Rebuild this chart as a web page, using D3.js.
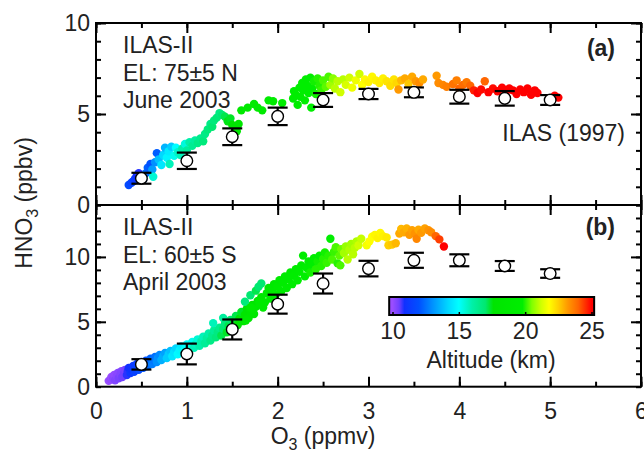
<!DOCTYPE html>
<html><head><meta charset="utf-8">
<script src="https://cdn.jsdelivr.net/npm/d3@7"></script>
<style>
html,body{margin:0;padding:0;background:#fff;}
svg{display:block;font-family:"Liberation Sans",Arial,Helvetica,sans-serif;}
</style></head>
<body>
<svg id="c" width="644" height="454"></svg>
<script>
// ---------- data ----------
const xTicks = [0,1,2,3,4,5,6];
const yTicksA = [0,5,10];
const yTicksB = [0,5,10];
const cbTicks = [10,15,20,25];
const ilasO3 = [0.5,1,1.5,2,2.5,3,3.5,4,4.5,5];
const ilasA = [1.47,2.43,3.75,4.87,5.77,6.10,6.19,5.95,5.86,5.77];
const ilasAerr = [0.30,0.45,0.46,0.48,0.38,0.28,0.27,0.38,0.40,0.27];
const ilasB = [1.72,2.52,4.41,6.36,7.95,9.10,9.74,9.74,9.30,8.72];
const ilasBerr = [0.40,0.80,0.77,0.73,0.77,0.60,0.58,0.46,0.38,0.33];
// ILAS-II points: [O3 (ppmv), HNO3 (ppbv), altitude (km)]
const ilas2A = [
[0.36,1.10,11.8],[0.39,1.22,11.6],[0.41,1.30,11.4],[0.43,1.45,11.2],[0.45,1.62,10.9],[0.47,1.75,10.8],
[0.49,1.55,11.5],[0.52,1.40,12.2],[0.55,1.75,12.5],[0.57,2.05,12.2],[0.60,2.25,12.0],[0.62,1.95,13.2],
[0.63,1.55,15.5],[0.65,2.35,13.0],[0.67,2.85,12.2],[0.69,2.50,13.8],[0.72,2.20,14.5],[0.74,2.75,14.2],
[0.76,3.15,13.6],[0.78,2.60,14.8],[0.80,2.95,14.6],[0.81,2.25,15.8],[0.83,3.20,14.0],[0.86,2.70,15.2],
[0.88,3.15,15.0],[0.90,2.90,15.6],[0.93,2.75,15.8],[0.95,3.10,16.0],[0.98,3.35,15.4],[1.00,3.00,16.2],
[1.03,3.45,16.0],[1.06,3.25,16.4],[1.09,3.55,16.2],[1.12,3.40,16.6],[1.15,3.65,16.5],[1.18,3.50,16.8],
[1.20,3.90,16.6],[1.23,4.15,16.8],[1.26,4.45,16.6],[1.28,4.30,17.0],[1.30,4.65,16.8],[1.33,4.80,16.9],
[1.36,5.05,16.7],[1.39,4.95,17.0],[1.42,4.85,17.2],[1.45,4.60,17.5],[1.48,4.75,17.4],[1.50,4.40,17.8],
[1.53,4.20,18.0],[1.55,4.05,18.2],[1.57,4.45,18.0],[1.60,5.20,18.6],[1.67,5.35,18.8],[1.74,5.55,18.9],
[1.78,5.35,19.0],[1.83,5.20,19.0],[1.90,5.75,19.2],[1.95,5.70,19.3],[2.05,5.60,19.5],[2.17,5.85,19.6],
[2.18,6.25,19.6],[2.20,6.05,19.5],[2.22,5.50,19.6],[2.24,6.45,19.7],[2.25,5.95,19.6],[2.27,6.70,19.8],
[2.28,6.30,19.7],[2.30,5.75,19.5],[2.31,6.90,19.8],[2.33,6.55,19.8],[2.34,6.15,19.7],[2.36,7.00,19.8],
[2.37,5.35,19.6],[2.38,6.40,19.8],[2.40,6.80,19.9],[2.42,6.10,19.9],[2.44,6.95,20.0],[2.46,6.55,20.0],
[2.48,6.30,20.1],[2.50,6.85,20.2],[2.53,6.50,20.3],[2.56,7.05,20.2],[2.58,6.60,20.8],[2.61,6.95,20.6],
[2.63,6.40,21.0],[2.66,6.80,21.0],[2.69,6.20,21.2],[2.72,6.90,21.0],[2.75,6.60,21.3],[2.79,7.00,21.2],
[2.82,6.45,21.6],[2.86,6.85,21.6],[2.90,7.20,21.2],[2.93,6.60,21.8],[2.96,6.90,21.9],[3.00,6.75,22.0],
[3.04,7.05,21.9],[3.08,6.85,22.0],[3.12,6.70,22.1],[3.16,6.95,22.0],[3.20,6.80,22.2],[3.24,6.55,22.3],
[3.28,6.90,22.2],[3.31,6.70,22.4],[3.33,6.35,23.2],[3.36,6.85,22.8],[3.40,6.95,23.0],[3.44,6.65,22.6],
[3.48,7.05,23.0],[3.52,6.80,23.2],[3.56,6.70,23.4],[3.60,6.90,23.0],[3.75,7.10,23.2],[3.77,6.70,23.4],
[3.82,6.60,23.5],[3.86,6.50,23.6],[3.93,6.65,23.8],[3.97,6.85,23.6],[4.00,6.40,24.0],[4.04,6.60,23.9],
[4.08,6.75,23.7],[4.12,6.55,24.0],[4.16,6.30,24.7],[4.20,6.15,25.0],[4.24,6.35,24.9],[4.28,6.80,24.0],
[4.32,6.20,25.0],[4.37,6.40,24.9],[4.42,6.25,25.0],[4.47,6.45,25.0],[4.51,6.20,25.0],[4.55,6.40,25.0],
[4.59,6.30,25.0],[4.63,6.10,25.0],[4.67,6.35,25.0],[4.71,6.20,25.0],[4.75,6.40,25.0],[4.79,6.05,25.0],
[4.83,6.30,25.0],[4.86,6.15,25.0],[5.05,6.00,25.0],[5.09,5.90,25.0]
];
const ilas2B = [
[0.14,0.45,10.0],[0.16,0.55,10.1],[0.17,0.75,10.0],[0.19,0.65,10.2],[0.20,0.90,10.1],[0.21,0.50,10.3],
[0.23,0.80,10.2],[0.24,1.05,10.2],[0.25,0.65,10.4],[0.27,0.95,10.3],[0.28,1.20,10.3],[0.29,0.75,10.5],
[0.31,1.05,10.5],[0.32,1.30,10.4],[0.34,0.90,10.8],
[0.35,1.20,10.8],[0.36,1.45,10.9],[0.38,1.05,11.2],[0.39,1.35,11.0],[0.41,1.60,11.2],[0.42,1.15,11.5],
[0.44,1.45,11.5],[0.45,1.75,11.4],[0.47,1.30,11.8],[0.48,1.60,11.8],[0.50,1.90,11.7],[0.52,1.45,12.1],
[0.53,1.75,12.0],[0.55,2.00,12.0],[0.57,1.60,12.4],[0.58,1.90,12.3],[0.60,2.15,12.3],[0.62,1.75,12.7],
[0.63,2.05,12.6],[0.65,2.30,12.5],[0.67,1.90,13.0],[0.68,2.20,13.0],[0.70,2.45,12.9],
[0.72,2.05,13.5],[0.74,2.35,13.5],[0.76,2.60,13.3],[0.78,2.20,14.0],[0.80,2.50,14.0],[0.82,2.75,13.8],
[0.84,2.35,14.5],[0.86,2.65,14.4],[0.88,2.95,14.2],[0.90,2.50,14.9],[0.92,2.80,14.8],[0.94,3.10,14.6],
[0.96,2.65,15.2],[0.98,2.95,15.1],[1.00,3.25,15.0],[1.02,2.80,15.5],[1.04,3.10,15.4],[1.06,3.45,15.2],
[1.08,3.00,15.8],[1.10,3.30,15.7],[1.12,3.65,15.5],[1.14,3.15,16.0],[1.16,3.50,16.0],[1.18,3.85,15.8],
[1.20,3.35,16.3],[1.22,3.75,16.2],[1.24,4.10,16.0],[1.26,3.55,16.6],[1.28,3.95,16.5],[1.30,4.35,16.3],
[1.32,3.80,16.8],[1.34,4.20,16.7],[1.36,4.55,16.5],[1.29,4.90,15.8],[1.40,5.30,16.2],
[1.38,3.95,17.2],[1.40,4.45,17.0],[1.42,4.85,16.8],[1.44,4.20,17.4],[1.46,4.70,17.2],[1.48,5.15,17.0],
[1.50,4.50,17.6],[1.52,5.00,17.4],[1.54,5.45,17.2],[1.56,4.75,17.8],[1.58,5.25,17.6],[1.60,5.75,17.4],
[1.62,5.05,18.0],[1.64,5.55,17.8],[1.66,6.00,17.6],[1.68,5.30,18.2],[1.70,5.85,18.0],[1.72,6.30,17.8],
[1.74,5.60,18.4],[1.76,6.15,18.2],[1.78,6.60,18.0],[1.80,6.50,18.8],[1.82,7.95,17.0],[1.82,6.90,18.5],
[1.84,6.10,19.0],[1.64,6.55,16.8],[1.70,7.05,17.0],[1.76,7.40,17.2],[1.79,7.70,17.0],
[1.65,5.10,18.8],[1.73,6.00,19.0],[1.70,6.10,19.2],[1.80,6.45,19.2],
[1.86,6.50,19.0],[1.88,7.20,18.8],[1.90,7.60,18.6],[1.92,6.80,19.2],[1.94,7.45,19.0],[1.96,7.90,18.8],
[1.98,7.10,19.3],[2.00,7.70,19.2],[2.02,8.20,19.0],[2.04,7.35,19.4],[2.06,8.00,19.3],[2.08,8.50,19.1],
[2.10,7.60,19.5],[2.12,8.25,19.4],[2.14,8.80,19.2],[2.16,7.90,19.6],[2.18,8.55,19.5],[2.20,9.05,19.3],
[2.22,8.20,19.7],[2.24,8.85,19.6],[2.26,9.35,19.4],[2.28,10.10,19.5],[2.30,8.50,19.8],[2.32,9.15,19.7],
[2.34,9.65,19.6],[2.36,8.80,19.9],[2.38,9.40,19.8],[2.40,9.90,19.7],[2.42,9.05,20.0],[2.44,9.65,19.9],
[2.46,10.10,19.8],[2.48,9.30,20.0],[2.50,9.85,20.0],[2.52,10.35,19.9],[2.54,9.55,20.1],[2.56,10.10,20.0],
[2.58,11.40,19.8],[2.60,9.80,20.2],[2.62,10.40,20.1],[2.64,10.75,20.2],[2.66,9.50,20.0],[2.69,9.35,20.2],
[2.68,10.10,20.3],[2.70,10.60,20.4],
[2.73,10.30,20.8],[2.75,10.80,20.7],[2.77,9.80,21.0],[2.79,10.55,20.9],[2.81,11.00,20.8],[2.83,10.20,21.0],
[2.85,10.70,21.0],[2.87,11.20,20.9],[2.89,10.90,21.2],[2.92,11.40,21.1],
[2.98,10.90,21.7],[3.01,11.20,21.8],[3.04,11.55,21.8],[3.07,11.70,21.9],[3.10,11.45,22.0],[3.13,11.85,21.9],
[3.16,11.60,22.0],[3.20,11.50,22.1],[3.22,10.90,22.5],[3.26,10.95,22.6],[3.30,11.05,22.8],
[3.34,11.80,23.0],[3.36,12.15,22.8],[3.39,11.90,23.0],[3.42,12.20,22.9],[3.45,11.70,23.2],[3.48,12.05,23.1],
[3.51,11.80,23.3],[3.53,11.40,23.5],[3.55,12.10,23.0],[3.58,11.85,23.2],[3.62,12.20,23.1],[3.66,12.05,23.3],
[3.69,11.90,23.4],[3.74,11.60,24.0],[3.78,11.35,24.4],[3.83,10.80,25.0]
];
const cStops = [10.0,10.5,10.9,12.0,13.0,14.2,15.0,16.0,17.0,17.6,19.8,20.5,21.2,21.8,22.5,23.2,24.0,24.5,25.0];
const cColors = ["#9a4dff","#7040ff","#1030ff","#0050ff","#0090ff","#00d8ff","#00ffff","#00f0a8","#00e870","#00e400","#00ee00","#80ff00","#d0ff00","#ffff00","#ffd000","#ff9900","#ff6600","#ff3300","#ff0000"];

// ---------- drawing ----------
const svg = d3.select("#c");
const FS = 23;
const x = d3.scaleLinear().domain([0,6]).range([96,641]);
const yA = d3.scaleLinear().domain([0,10]).range([205,23]);
const yB = d3.scaleLinear().domain([0,14]).range([386.7,205]);
const color = d3.scaleLinear().domain(cStops).range(cColors).clamp(true);
const minorX = d3.range(0,6.01,0.5);

function styleAxis(a) {
  a.select(".domain").remove();
  a.selectAll("line").attr("stroke","#000").attr("stroke-width",2);
  a.selectAll("text").attr("font-size",FS).attr("fill","#222").attr("font-family","Liberation Sans, Arial, sans-serif");
  return a;
}

function panel(y, pts, ilasY, ilasErr, labelY, minorY) {
  const top = y.range()[1], bot = y.range()[0];
  const g = svg.append("g");
  // scatter
  g.append("g").selectAll("circle").data(pts).join("circle")
    .attr("cx", d => x(d[0])).attr("cy", d => y(d[1])).attr("r", 4.2)
    .attr("fill", d => color(d[2]));
  // ILAS error bars
  const eb = g.append("g").attr("stroke","#000").attr("stroke-width",2.2);
  ilasO3.forEach((o,i) => {
    const cx = x(o), y1 = y(ilasY[i]+ilasErr[i]), y2 = y(ilasY[i]-ilasErr[i]);
    eb.append("line").attr("x1",cx).attr("x2",cx).attr("y1",y1).attr("y2",y2);
    eb.append("line").attr("x1",cx-10).attr("x2",cx+10).attr("y1",y1).attr("y2",y1);
    eb.append("line").attr("x1",cx-10).attr("x2",cx+10).attr("y1",y2).attr("y2",y2);
  });
  g.append("g").selectAll("circle").data(ilasO3).join("circle")
    .attr("cx", d => x(d)).attr("cy", (d,i) => y(ilasY[i])).attr("r", 5.8)
    .attr("fill","#fff").attr("stroke","#000").attr("stroke-width",1.4);
  // axes (ticks inward)
  const ax = (axis, tr) => styleAxis(g.append("g").attr("transform", tr).call(axis));
  const majorY = labelY.filter(v => v > 0);
  ax(d3.axisLeft(y).tickValues(minorY).tickSize(-5).tickFormat(""), "translate(96,0)");
  ax(d3.axisLeft(y).tickValues(majorY).tickSize(-10).tickFormat(""), "translate(96,0)");
  ax(d3.axisLeft(y).tickValues(labelY).tickSize(0).tickPadding(6).tickFormat(d3.format("d")), "translate(96,0)");
  ax(d3.axisRight(y).tickValues(minorY).tickSize(-5).tickFormat(""), `translate(${x(6)},0)`);
  ax(d3.axisRight(y).tickValues(majorY).tickSize(-10).tickFormat(""), `translate(${x(6)},0)`);
  ax(d3.axisTop(x).tickValues(minorX).tickSize(-5).tickFormat(""), `translate(0,${top})`);
  ax(d3.axisTop(x).tickValues(xTicks).tickSize(-10).tickFormat(""), `translate(0,${top})`);
  ax(d3.axisBottom(x).tickValues(minorX).tickSize(-5).tickFormat(""), `translate(0,${bot})`);
  ax(d3.axisBottom(x).tickValues(xTicks).tickSize(-10).tickFormat(""), `translate(0,${bot})`);
  return g;
}

panel(yA, ilas2A, ilasA, ilasAerr, yTicksA, d3.range(0,10.01,1));
panel(yB, ilas2B, ilasB, ilasBerr, yTicksB, d3.range(0,14.01,1));
// bottom x-axis labels
styleAxis(svg.append("g").attr("transform","translate(0,386.7)")
  .call(d3.axisBottom(x).tickValues(xTicks).tickSize(0).tickPadding(16).tickFormat(d3.format("d"))));

// frames
svg.append("rect").attr("x",96).attr("y",23).attr("width",x(6)-96).attr("height",386.7-23)
  .attr("fill","none").attr("stroke","#000").attr("stroke-width",2);
svg.append("line").attr("x1",96).attr("x2",x(6)).attr("y1",205).attr("y2",205).attr("stroke","#000").attr("stroke-width",2);

// annotations
const txt = (t, xx, yy, anchor, bold) => svg.append("text").attr("x",xx).attr("y",yy)
  .attr("font-size",FS).attr("fill","#222").attr("text-anchor",anchor||"start")
  .attr("font-weight",bold?"bold":"normal").text(t);
txt("ILAS-II",123,53); txt("EL: 75±5 N",123,81); txt("June 2003",123,108);
txt("(a)",615,56,"end",true);
txt("ILAS (1997)",625,141,"end");
txt("ILAS-II",123,235); txt("EL: 60±5 S",123,263); txt("April 2003",123,290);
txt("(b)",615,235,"end",true);

// axis titles
const yt = svg.append("text").attr("transform","translate(32,203) rotate(-90)")
  .attr("text-anchor","middle").attr("font-size",FS).attr("fill","#222");
yt.append("tspan").text("HNO");
yt.append("tspan").attr("dy",6).attr("font-size",16).text("3");
yt.append("tspan").attr("dy",-6).text(" (ppbv)");
const xt = svg.append("text").attr("x",323).attr("y",444)
  .attr("text-anchor","middle").attr("font-size",FS).attr("fill","#222");
xt.append("tspan").text("O");
xt.append("tspan").attr("dy",6).attr("font-size",16).text("3");
xt.append("tspan").attr("dy",-6).text(" (ppmv)");

// colorbar
const cb = d3.scaleLinear().domain([10,25]).range([392.5,591.5]);
const grad = svg.append("defs").append("linearGradient").attr("id","cbg")
  .attr("x1","0%").attr("x2","100%").attr("y1","0%").attr("y2","0%");
const cbx0 = cb(9.75), cbx1 = cb(25.2);
grad.selectAll("stop").data(cStops).join("stop")
  .attr("offset", d => ((cb(d)-cbx0)/(cbx1-cbx0)*100)+"%")
  .attr("stop-color", (d,i) => cColors[i]);
grad.insert("stop",":first-child").attr("offset","0%").attr("stop-color",cColors[0]);
svg.append("rect").attr("x",cbx0).attr("y",297).attr("width",cbx1-cbx0).attr("height",18)
  .attr("fill","url(#cbg)").attr("stroke","#000").attr("stroke-width",2);
const cba = svg.append("g").attr("transform","translate(0,315)")
  .call(d3.axisBottom(cb).tickValues(cbTicks).tickSize(-3).tickPadding(8).tickFormat(d3.format("d")));
cba.select(".domain").remove();
cba.selectAll("line").attr("stroke","#000").attr("stroke-width",1.5);
cba.selectAll("text").attr("font-size",FS).attr("fill","#222");
txt("Altitude (km)",491,368,"middle");
</script>
</body></html>
